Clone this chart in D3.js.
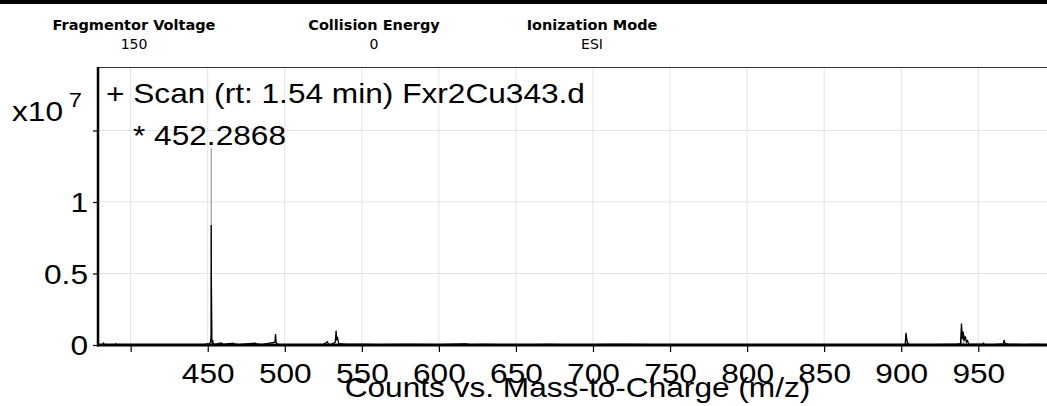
<!DOCTYPE html>
<html>
<head>
<meta charset="utf-8">
<script src="https://cdn.jsdelivr.net/npm/d3@7"></script>
<style>
  html, body { margin: 0; padding: 0; background: #fff; }
  svg { display: block; }
</style>
</head>
<body>
<svg id="chart" width="1047" height="406"></svg>
<script>
// ---- Data ----
const headerLabels = ["Fragmentor Voltage", "Collision Energy", "Ionization Mode"];
const headerValues = ["150", "0", "ESI"];
const scanTitle = "+ Scan (rt: 1.54 min) Fxr2Cu343.d";
const peakLabel = "* 452.2868";
const xTitle = "Counts vs. Mass-to-Charge (m/z)";
const xTicks = [400, 450, 500, 550, 600, 650, 700, 750, 800, 850, 900, 950];
const xTickLabels = ["", "450", "500", "550", "600", "650", "700", "750", "800", "850", "900", "950"];
const yTicks = [0, 0.5, 1, 1.5];
const yTickLabels = ["0", "0.5", "1", ""];
// profile spectrum: m/z and counts (x10^7)
const profileMz = [379, 382.0, 382.4, 382.8, 390, 390.3, 390.6, 400, 410, 420, 430, 440, 448, 450, 451,
  451.8, 452.1, 452.2, 452.26, 452.32, 452.5, 452.7, 453.0, 453.25, 453.5, 454,
  456, 458.5, 459.3, 460, 466.5, 467.2, 470, 480.8, 481.6, 485,
  493.6, 494.0, 494.4, 495, 496, 505, 515, 520, 525, 527.6, 528.3, 530,
  532.8, 533.3, 533.7, 534.3, 535, 540, 552, 560, 580, 600, 617.6, 620, 630, 640, 660, 671, 680,
  700, 710, 720, 740, 760, 780, 800, 820, 840, 860, 880, 895,
  902.6, 903.1, 903.6, 904.2, 905, 910, 920, 930, 936, 938.5, 939.1, 939.6, 940.3, 940.8, 941.6, 942.3, 943.0, 943.8,
  946, 953.0, 953.3, 954, 960, 966.3, 966.7, 967.2, 968, 970, 980, 985, 994.6];
const profileCounts = [0.002, 0.003, 0.012, 0.003, 0.002, 0.007, 0.002, 0.002, 0.003, 0.002, 0.003, 0.002, 0.004, 0.008, 0.01,
  0.02, 0.05, 0.06, 0.84, 0.5, 0.29, 0.05, 0.01, 0.035, 0.01, 0.004,
  0.008, 0.015, 0.012, 0.004, 0.013, 0.008, 0.003, 0.012, 0.007, 0.003,
  0.02, 0.077, 0.02, 0.008, 0.003, 0.003, 0.003, 0.003, 0.004, 0.023, 0.006, 0.003,
  0.02, 0.10, 0.04, 0.05, 0.01, 0.004, 0.004, 0.003, 0.005, 0.003, 0.008, 0.003, 0.004, 0.003, 0.003, 0.005, 0.003,
  0.003, 0.004, 0.004, 0.003, 0.003, 0.003, 0.003, 0.003, 0.002, 0.003, 0.003, 0.003,
  0.005, 0.086, 0.04, 0.015, 0.004, 0.003, 0.003, 0.004, 0.005, 0.01, 0.15, 0.04, 0.093, 0.03, 0.06, 0.02, 0.03, 0.006,
  0.004, 0.004, 0.012, 0.004, 0.003, 0.008, 0.035, 0.015, 0.01, 0.005, 0.003, 0.004, 0.003];
// centroid sticks (gray)
const stickMz = [452.2868, 903.3, 939.2, 940.6];
const stickCounts = [1.377, 0.07, 0.12, 0.07];

// ---- Layout ----
const svg = d3.select("#chart");
const W = 1047, H = 406;
const plot = { left: 98, right: 1047, top: 67, bottom: 345 };
const SX = 1.13; // horizontal stretch of text in the original
const FONT = "'Liberation Sans', Arial, sans-serif";

const x = d3.scaleLinear().domain([378.8, 994.6]).range([plot.left, plot.right]);
const y = d3.scaleLinear().domain([0, 1.944]).range([plot.bottom, plot.top]);

// header bar
svg.append("rect").attr("x", 0).attr("y", 0).attr("width", W).attr("height", 4).attr("fill", "#000");
const headerX = [134, 374, 592];
headerLabels.forEach((t, i) => {
  svg.append("text").attr("x", headerX[i]).attr("y", 30).attr("text-anchor", "middle")
    .attr("font-family", "'DejaVu Sans', Verdana, sans-serif").attr("font-weight", "bold")
    .attr("font-size", 14.5).text(t);
  svg.append("text").attr("x", headerX[i]).attr("y", 49).attr("text-anchor", "middle")
    .attr("font-family", "'DejaVu Sans', Verdana, sans-serif")
    .attr("font-size", 14).text(headerValues[i]);
});

// grid
const grid = svg.append("g");
grid.selectAll("line.vx").data(xTicks).join("line")
  .attr("x1", d => x(d)).attr("x2", d => x(d)).attr("y1", plot.top).attr("y2", plot.bottom)
  .attr("stroke", "#e3e3e3").attr("stroke-width", 1);
grid.selectAll("line.hy").data(yTicks.filter(d => d > 0)).join("line")
  .attr("x1", plot.left).attr("x2", plot.right).attr("y1", d => y(d)).attr("y2", d => y(d))
  .attr("stroke", "#e3e3e3").attr("stroke-width", 1);

// clip
svg.append("clipPath").attr("id", "clip").append("rect")
  .attr("x", plot.left).attr("y", plot.top).attr("width", plot.right - plot.left).attr("height", plot.bottom - plot.top);

const dataG = svg.append("g").attr("clip-path", "url(#clip)");
// sticks
dataG.selectAll("line.stick").data(stickMz.map((m, i) => [m, stickCounts[i]])).join("line")
  .attr("x1", d => x(d[0])).attr("x2", d => x(d[0])).attr("y1", y(0)).attr("y2", d => y(d[1]))
  .attr("stroke", "#9a9a9a").attr("stroke-width", 1.2);
// profile
const prof = profileMz.map((m, i) => [m, profileCounts[i]]);
dataG.append("path").datum(prof)
  .attr("d", d3.line().x(d => x(d[0])).y(d => y(d[1])))
  .attr("fill", "none").attr("stroke", "#000").attr("stroke-width", 1.3);

// top border
svg.append("line").attr("x1", plot.left).attr("x2", plot.right).attr("y1", plot.top + 0.5).attr("y2", plot.top + 0.5)
  .attr("stroke", "#333").attr("stroke-width", 1.2);

// axes
const xAxis = d3.axisBottom(x).tickValues(xTicks).tickSize(7)
  .tickFormat((d, i) => xTickLabels[i]);
const gx = svg.append("g").attr("transform", `translate(0,${plot.bottom})`).call(xAxis);
gx.select(".domain").remove();
gx.selectAll(".tick line").attr("stroke", "#000").attr("stroke-width", 1.2);
gx.selectAll(".tick text").attr("font-family", FONT).attr("font-size", 28).attr("fill", "#000")
  .attr("y", 0).attr("dy", 0)
  .attr("transform", `translate(0,38) scale(${SX},1)`);
svg.append("line").attr("x1", plot.left - 1).attr("x2", plot.right).attr("y1", plot.bottom).attr("y2", plot.bottom)
  .attr("stroke", "#000").attr("stroke-width", 3);

const yAxis = d3.axisLeft(y).tickValues(yTicks).tickSize(5)
  .tickFormat((d, i) => yTickLabels[i]);
const gy = svg.append("g").attr("transform", `translate(${plot.left},0)`).call(yAxis);
gy.select(".domain").remove();
gy.selectAll(".tick line").attr("stroke", "#000").attr("stroke-width", 1.2);
gy.selectAll(".tick text").attr("font-family", FONT).attr("font-size", 28).attr("fill", "#000")
  .attr("x", 0).attr("dy", "0.34em")
  .attr("transform", `translate(-10,0) scale(${SX},1)`);
svg.append("line").attr("x1", plot.left).attr("x2", plot.left).attr("y1", plot.top).attr("y2", plot.bottom + 1.5)
  .attr("stroke", "#000").attr("stroke-width", 2.5);

// helper for stretched text
function sText(tx, ty, str, size, anchor) {
  return svg.append("text")
    .attr("transform", `translate(${tx},${ty}) scale(${SX},1)`)
    .attr("text-anchor", anchor || "start")
    .attr("font-family", FONT).attr("font-size", size).attr("fill", "#000").text(str);
}

// exponent label
const expT = sText(12, 121, "x10", 28);
expT.append("tspan").attr("dx", 5).attr("dy", -14).attr("font-size", 21).text("7");

// plot texts
sText(106, 103, scanTitle, 28);
sText(133, 145, peakLabel, 28);
sText((plot.left + plot.right) / 2 + 5, 397, xTitle, 28, "middle");
</script>
</body>
</html>
